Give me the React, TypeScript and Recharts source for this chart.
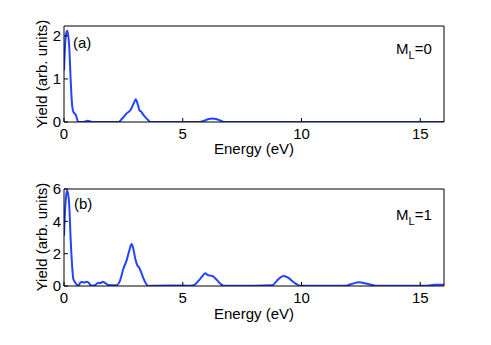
import { LineChart, Line, XAxis, YAxis } from "recharts";

// panel (a): M_L = 0
const energyA = [0, 0.06, 0.1, 0.14, 0.22, 0.28, 0.34, 0.39, 0.5, 0.6, 0.8, 0.95, 1.0, 1.05, 1.2, 2.3, 2.45, 2.64, 2.8, 2.95, 3.02, 3.1, 3.18, 3.25, 3.35, 3.46, 3.55, 3.63, 3.8, 5.7, 5.9, 6.1, 6.25, 6.4, 6.55, 6.75, 16];
const yieldA = [1.2, 1.9, 2.08, 2.12, 1.75, 0.98, 0.4, 0.24, 0.16, 0, 0, 0.02, 0.03, 0.02, 0, 0, 0.08, 0.2, 0.28, 0.45, 0.53, 0.42, 0.27, 0.24, 0.16, 0.09, 0.04, 0, 0, 0, 0.03, 0.07, 0.08, 0.07, 0.04, 0, 0];

// panel (b): M_L = 1
const energyB = [0, 0.05, 0.1, 0.14, 0.22, 0.28, 0.34, 0.39, 0.46, 0.53, 0.62, 0.68, 0.75, 0.85, 0.95, 1.03, 1.1, 1.17, 1.3, 1.45, 1.55, 1.62, 1.72, 1.87, 2.0, 2.22, 2.35, 2.5, 2.64, 2.75, 2.85, 2.92, 3.0, 3.08, 3.16, 3.25, 3.35, 3.45, 3.55, 3.8, 4.5, 5.3, 5.46, 5.65, 5.85, 5.95, 6.05, 6.16, 6.27, 6.45, 6.6, 6.72, 8.0, 8.76, 8.95, 9.1, 9.25, 9.45, 9.7, 9.96, 11.86, 12.1, 12.42, 12.75, 13.12, 15.3, 15.6, 16];
const yieldB = [3.1, 4.8, 5.7, 5.9, 5.0, 2.9, 1.3, 0.45, 0.25, 0.1, 0.02, 0.2, 0.25, 0.22, 0.27, 0.22, 0.08, 0.02, 0.05, 0.2, 0.18, 0.26, 0.2, 0.06, 0.05, 0.05, 0.3, 1.07, 1.6, 2.2, 2.6, 2.3, 1.7, 1.3, 1.15, 0.85, 0.45, 0.15, 0, 0.02, 0.03, 0.02, 0.05, 0.3, 0.65, 0.79, 0.68, 0.64, 0.6, 0.35, 0.12, 0.02, 0.02, 0.04, 0.3, 0.52, 0.62, 0.5, 0.2, 0.02, 0.02, 0.12, 0.23, 0.14, 0.02, 0.02, 0.07, 0.08];

const xTicks = [0, 5, 10, 15];
const yTicksA = [0, 1, 2];
const yTicksB = [0, 2, 4, 6];

const FONT = "'Liberation Sans', Arial, Helvetica, sans-serif";
const tickStyle = { fontSize: 15, fill: "#000", fontFamily: FONT };
const axisStroke = { stroke: "#000", strokeWidth: 1 };

interface PanelProps {
  energy: number[];
  yields: number[];
  yMax: number;
  yTicks: number[];
  top: number;
  bottomMargin: number;
}

function Panel({ energy, yields, yMax, yTicks, top, bottomMargin }: PanelProps) {
  const data = energy.map((e, i) => ({ e, y: yields[i] }));
  return (
    <div style={{ position: "absolute", left: 0, top }}>
      <LineChart width={491} height={160} data={data} margin={{ top: 26, right: 47, bottom: bottomMargin, left: 63 }}>
        <XAxis
          xAxisId="b"
          dataKey="e"
          type="number"
          domain={[0, 16]}
          ticks={xTicks}
          allowDataOverflow
          height={1}
          tick={tickStyle}
          tickSize={-4}
          tickMargin={10}
          axisLine={axisStroke}
          tickLine={axisStroke}
        />
        <XAxis
          xAxisId="t"
          dataKey="e"
          type="number"
          orientation="top"
          mirror
          domain={[0, 16]}
          ticks={xTicks}
          tick={false}
          tickSize={4}
          axisLine={axisStroke}
          tickLine={axisStroke}
        />
        <YAxis
          yAxisId="l"
          type="number"
          domain={[0, yMax]}
          ticks={yTicks}
          allowDataOverflow
          width={1}
          tick={tickStyle}
          tickSize={-4}
          tickMargin={7}
          axisLine={axisStroke}
          tickLine={axisStroke}
        />
        <YAxis
          yAxisId="r"
          type="number"
          orientation="right"
          mirror
          domain={[0, yMax]}
          ticks={yTicks}
          tick={false}
          tickSize={4}
          axisLine={axisStroke}
          tickLine={axisStroke}
        />
        <Line
          xAxisId="b"
          yAxisId="l"
          dataKey="y"
          type="monotone"
          stroke="#2244ff"
          strokeWidth={2}
          dot={false}
          isAnimationActive={false}
        />
      </LineChart>
    </div>
  );
}

const textBase: React.CSSProperties = {
  position: "absolute",
  fontFamily: FONT,
  fontSize: 15,
  lineHeight: "17px",
  color: "#000",
  whiteSpace: "nowrap",
};

function Centered({ x, y, rotate, children }: { x: number; y: number; rotate?: boolean; children: React.ReactNode }) {
  return (
    <div style={{ ...textBase, left: x, top: y, transform: `translate(-50%, -50%)${rotate ? " rotate(-90deg)" : ""}` }}>
      {children}
    </div>
  );
}

function ML({ x, y, value }: { x: number; y: number; value: string }) {
  return (
    <div style={{ ...textBase, left: x, top: y }}>
      M<span style={{ fontSize: 11, position: "relative", top: 5 }}>L</span>={value}
    </div>
  );
}

export default function App() {
  return (
    <div style={{ position: "absolute", left: 0, top: 0, width: 491, height: 345, background: "#fff", overflow: "hidden" }}>
      <Panel energy={energyA} yields={yieldA} yMax={2.23} yTicks={yTicksA} top={0} bottomMargin={37} />
      <Panel energy={energyB} yields={yieldB} yMax={6} yTicks={yTicksB} top={163} bottomMargin={36} />

      <Centered x={41} y={74} rotate>Yield (arb. units)</Centered>
      <Centered x={254} y={147.5}>Energy (eV)</Centered>
      <div style={{ ...textBase, left: 73, top: 34 }}>(a)</div>
      <ML x={396} y={40} value="0" />

      <Centered x={41} y={237} rotate>Yield (arb. units)</Centered>
      <Centered x={254} y={312.5}>Energy (eV)</Centered>
      <div style={{ ...textBase, left: 74, top: 195 }}>(b)</div>
      <ML x={396} y={206} value="1" />
    </div>
  );
}
